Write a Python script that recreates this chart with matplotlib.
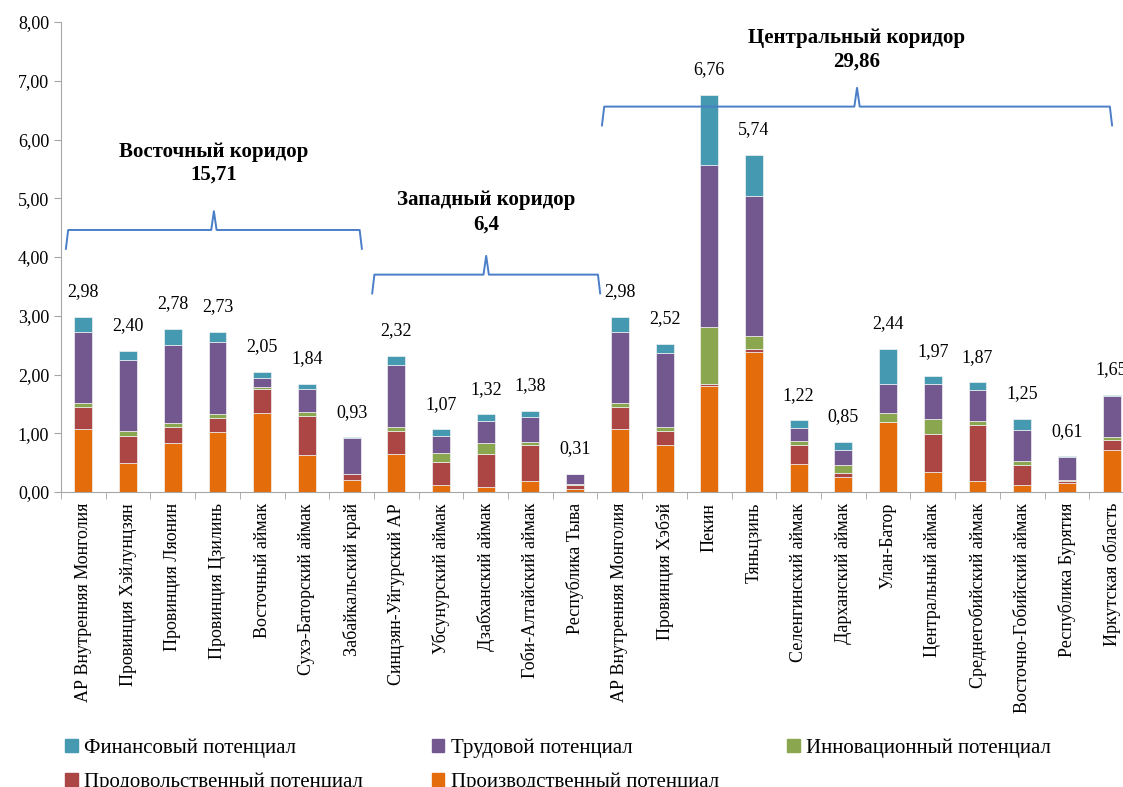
import numpy as np
import matplotlib
matplotlib.use('Agg')
import matplotlib.pyplot as plt
from matplotlib.patches import Patch

plt.rcParams['font.family'] = 'serif'
plt.rcParams['font.serif'] = ['Liberation Serif', 'DejaVu Serif']

# regions (x axis)
regions = ['АР Внутренняя Монголия', 'Провинция Хэйлунцзян', 'Провинция Ляонин',
           'Провинция Цзилинь', 'Восточный аймак', 'Сухэ-Баторский аймак',
           'Забайкальский край', 'Синцзян-Уйгурский АР', 'Убсунурский аймак',
           'Дзабханский аймак', 'Гоби-Алтайский аймак', 'Республика Тыва',
           'АР Внутренняя Монголия', 'Провинция Хэбэй', 'Пекин', 'Тяньцзинь',
           'Селенгинский аймак', 'Дарханский аймак', 'Улан-Батор',
           'Центральный аймак', 'Среднегобийский аймак', 'Восточно-Гобийский аймак',
           'Республика Бурятия', 'Иркутская область']

# segments, bottom to top
production = [1.07, 0.49, 0.84, 1.02, 1.35, 0.63, 0.20, 0.65, 0.12, 0.09, 0.18, 0.05,
              1.07, 0.80, 1.80, 2.38, 0.47, 0.25, 1.19, 0.34, 0.19, 0.12, 0.15, 0.71]
food = [0.38, 0.46, 0.27, 0.24, 0.41, 0.66, 0.10, 0.39, 0.39, 0.56, 0.62, 0.07,
        0.38, 0.24, 0.03, 0.05, 0.33, 0.08, 0.01, 0.65, 0.95, 0.34, 0.04, 0.18]
innovation = [0.06, 0.08, 0.07, 0.07, 0.02, 0.08, 0.01, 0.07, 0.15, 0.18, 0.05, 0.01,
              0.06, 0.06, 0.98, 0.22, 0.06, 0.13, 0.14, 0.26, 0.07, 0.06, 0.02, 0.04]
labor = [1.21, 1.21, 1.33, 1.23, 0.16, 0.38, 0.61, 1.06, 0.30, 0.38, 0.43, 0.17,
         1.21, 1.26, 2.76, 2.38, 0.23, 0.25, 0.49, 0.59, 0.52, 0.54, 0.38, 0.70]
finance = [0.26, 0.16, 0.27, 0.17, 0.11, 0.09, 0.01, 0.15, 0.11, 0.11, 0.10, 0.01,
           0.26, 0.16, 1.19, 0.71, 0.13, 0.14, 0.61, 0.13, 0.14, 0.19, 0.02, 0.02]

totals = ['2,98', '2,40', '2,78', '2,73', '2,05', '1,84', '0,93', '2,32', '1,07', '1,32',
          '1,38', '0,31', '2,98', '2,52', '6,76', '5,74', '1,22', '0,85', '2,44', '1,97',
          '1,87', '1,25', '0,61', '1,65']

# corridors: title, sum, brace span (in bar units), brace level, title level, sum level
corr_names = ['Восточный коридор', 'Западный коридор', 'Центральный коридор']
corr_sums = ['15,71', '6,4', '29,86']
corr_span = [(-0.39, 6.23), (6.46, 11.56), (11.6, 23.01)]
corr_brace_y = [4.46, 3.70, 6.56]
corr_title_y = [5.79, 4.97, 7.73]
corr_sum_y = [5.40, 4.56, 7.32]

series = [('Производственный потенциал', production, '#E46C0A'),
          ('Продовольственный потенциал', food, '#AB4644'),
          ('Инновационный потенциал', innovation, '#8AA64E'),
          ('Трудовой потенциал', labor, '#72588E'),
          ('Финансовый потенциал', finance, '#4599B1')]

fig = plt.figure(figsize=(11.23, 7.87), dpi=100)
# axes run slightly past the right edge, like in the source picture
ax = fig.add_axes([61 / 1123, 295 / 787, 1073 / 1123, 470 / 787])

x = np.arange(len(regions))
bottom = np.zeros(len(regions))
handles = {}
for name, vals, col in series:
    vals = np.array(vals)
    ax.bar(x, vals, 0.4, bottom=bottom, color=col, edgecolor='#F2F2F2', linewidth=0.5)
    handles[name] = Patch(color=col)
    bottom += vals

for i, t in enumerate(totals):
    ax.annotate(t, (x[i], bottom[i]), xytext=(0, 18), textcoords='offset points',
                ha='center', va='center', fontsize=13)

# braces over corridors
blue = '#4A7EC7'
for k in range(len(corr_names)):
    x0, x1 = corr_span[k]
    yb = corr_brace_y[k]
    xm = (x0 + x1) / 2
    h = 0.32
    ax.plot([x0, x0 + 0.05, xm - 0.06, xm, xm + 0.06, x1 - 0.05, x1],
            [yb - h, yb, yb, yb + h, yb, yb, yb - h],
            color=blue, lw=1.4, clip_on=False)
    ax.text(xm, corr_title_y[k], corr_names[k], ha='center', va='center', fontsize=15, fontweight='bold')
    ax.text(xm, corr_sum_y[k], corr_sums[k], ha='center', va='center', fontsize=15, fontweight='bold')

ax.set_xlim(-0.5, len(regions) - 0.5)
ax.set_ylim(0, 8)
ax.set_yticks(np.arange(0, 9, 1))
ax.set_yticklabels([f'{v:.2f}'.replace('.', ',') for v in range(9)], fontsize=13)
ax.set_xticks(x)
ax.set_xticklabels(regions, rotation=90, fontsize=13)
ax.set_xticks(np.arange(-0.5, len(regions), 1), minor=True)
ax.tick_params(axis='x', which='major', length=0, pad=8)
ax.tick_params(axis='x', which='minor', length=5, color='#A6A6A6', direction='out')
ax.tick_params(axis='y', length=5, color='#A6A6A6', direction='out')

for s in ['top', 'right']:
    ax.spines[s].set_visible(False)
for s in ['left', 'bottom']:
    ax.spines[s].set_color('#A6A6A6')

order = ['Финансовый потенциал', 'Продовольственный потенциал', 'Трудовой потенциал',
         'Производственный потенциал', 'Инновационный потенциал']
fig.legend([handles[n] for n in order], order, loc='upper left', bbox_to_anchor=(55 / 1123, 1 - 728 / 787),
           ncol=3, frameon=False, fontsize=15, handlelength=0.6, handleheight=0.6,
           handletextpad=0.3, columnspacing=3.3, labelspacing=0.72, borderpad=0)

fig.savefig('out.png', dpi=100)
